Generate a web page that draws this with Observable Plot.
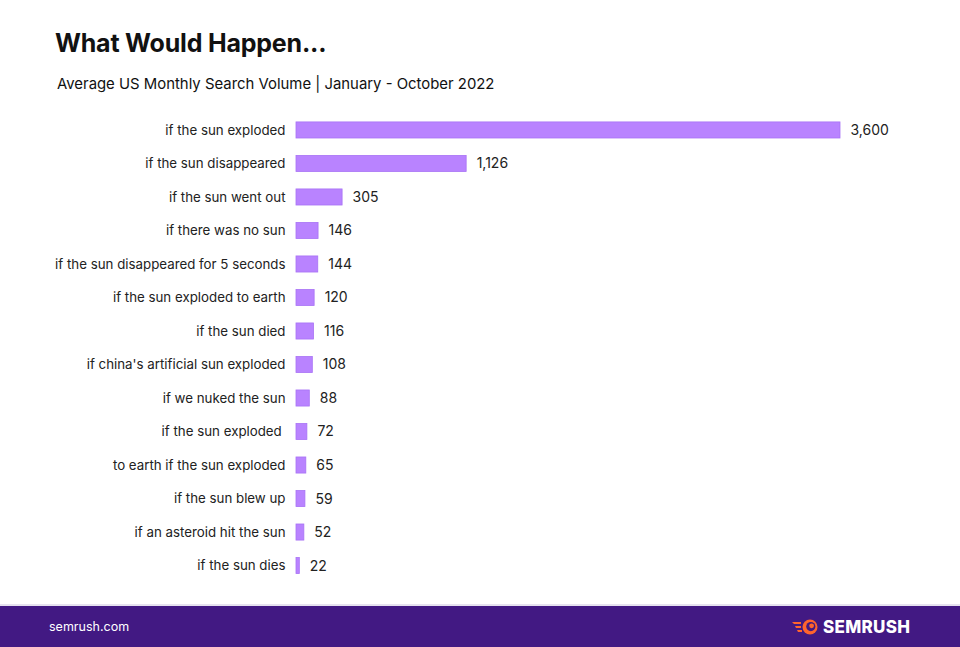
<!DOCTYPE html>
<html>
<head>
<meta charset="utf-8">
<script src="https://cdn.jsdelivr.net/npm/d3@7"></script>
<script src="https://cdn.jsdelivr.net/npm/@observablehq/plot@0.6"></script>
<style>
  html, body { margin: 0; padding: 0; background: #fff; }
  #wrap { position: relative; width: 960px; height: 647px; overflow: hidden; font-family: Inter, "Noto Sans", sans-serif; }
  #title { position: absolute; left: 55px; top: 28px; font-size: 25px; font-weight: 700; color: #111; letter-spacing: -0.2px; }
  #subtitle { position: absolute; left: 57px; top: 75px; font-size: 14.9px; color: #111; }
  #chart { position: absolute; left: 0; top: 100px; }
  #footer { position: absolute; left: 0; top: 604px; width: 960px; height: 43px; background: #421983; border-top: 2px solid #e6e2ef; box-sizing: border-box; }
  #site { position: absolute; left: 49px; top: 13px; color: #fff; font-size: 12.5px; }
  #logo { position: absolute; left: 792px; top: 11px; display: flex; align-items: center; }
  #logo span { color: #fff; font-weight: 800; font-size: 17px; letter-spacing: 0.3px; margin-left: 4px; }
</style>
</head>
<body>
<div id="wrap">
  <div id="title">What Would Happen...</div>
  <div id="subtitle">Average US Monthly Search Volume | January - October 2022</div>
  <div id="chart"></div>
  <div id="footer">
    <div id="site">semrush.com</div>
    <div id="logo">
      <svg width="27" height="16" viewBox="0 0 27 16">
        <path d="M0 3 L9 3 L9 5 L2 5 Z" fill="#ff642d"/>
        <path d="M3 7 L9 7 L9 9 L4 9 Z" fill="#ff642d"/>
        <path d="M5 11 L10 11 L10 13 L6 13 Z" fill="#ff642d"/>
        <circle cx="18" cy="8" r="7.5" fill="#ff642d"/>
        <circle cx="18.8" cy="7.6" r="4.6" fill="#421983"/>
        <circle cx="19.6" cy="6.8" r="2.4" fill="#ff642d"/>
      </svg>
      <span>SEMRUSH</span>
    </div>
  </div>
</div>
<script>
const queries = [
  "if the sun exploded",
  "if the sun disappeared",
  "if the sun went out",
  "if there was no sun",
  "if the sun disappeared for 5 seconds",
  "if the sun exploded to earth",
  "if the sun died",
  "if china's artificial sun exploded",
  "if we nuked the sun",
  "if the sun exploded\u00a0",
  "to earth if the sun exploded",
  "if the sun blew up",
  "if an asteroid hit the sun",
  "if the sun dies"
];
const volumes = [3600, 1126, 305, 146, 144, 120, 116, 108, 88, 72, 65, 59, 52, 22];

const data = queries.map((q, i) => ({query: q, volume: volumes[i]}));
const fmt = d3.format(",");

const chart = Plot.plot({
  width: 960,
  height: 491,
  marginTop: 4.5,
  marginBottom: 0,
  marginLeft: 296,
  marginRight: 120,
  style: {fontFamily: "Inter, 'Noto Sans', sans-serif", fontSize: "13.3px", color: "#222", background: "transparent"},
  x: {domain: [0, 3600], axis: null},
  y: {domain: queries, padding: 0.52, round: false, label: null, tickSize: 0, tickPadding: 11},
  marks: [
    Plot.axisY({tickSize: 0, tickPadding: 11, fontSize: 13.3, fill: "#222", label: null}),
    Plot.barX(data, {x: "volume", y: "query", fill: "#b983ff", stroke: "#a873f5", strokeWidth: 0.8}),
    Plot.text(data, {x: "volume", y: "query", text: d => fmt(d.volume), textAnchor: "start", dx: 10, fontSize: 14, fill: "#222"})
  ]
});
document.getElementById("chart").appendChild(chart);
</script>
</body>
</html>
